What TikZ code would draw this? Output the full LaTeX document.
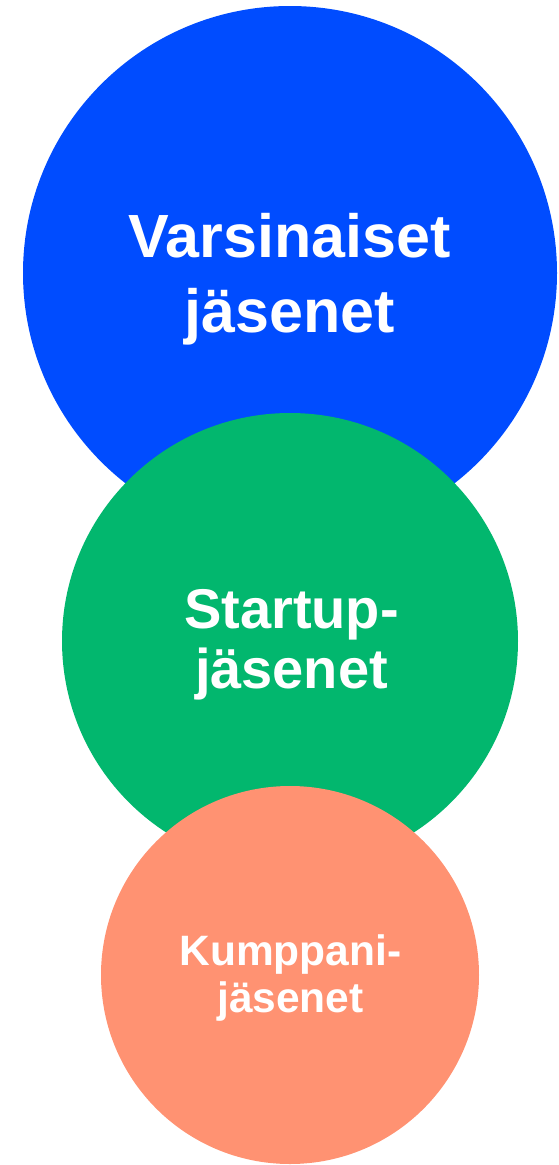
\documentclass[tikz,border=0pt]{standalone}
\usepackage{fontspec}
\setmainfont{Liberation Sans}
\definecolor{varsblue}{RGB}{0,76,255}
\definecolor{startgreen}{RGB}{2,183,110}
\definecolor{partnerorange}{RGB}{255,146,114}
\begin{document}
\begin{tikzpicture}
	[x=1pt,y=-1pt,
	ball/.style={circle,draw=none,inner sep=0pt,minimum size=#1},
	txt/.style={text=white,align=center,inner sep=0pt}]
	\useasboundingbox (0,0) rectangle (559,1165);
	\node[ball=534pt,fill=varsblue,name=varsinaiset] at (290,273) {};
	\node[ball=456pt,fill=startgreen,name=startup] at (290,641) {};
	\node[ball=378pt,fill=partnerorange,name=kumppani] at (290,975) {};
	\node[txt,font=\bfseries\fontsize{61}{75}\selectfont,name=varsinaisetlbl] at (289.5,279.5) {Varsinaiset\\jäsenet};
	\node[txt,font=\bfseries\fontsize{56}{60}\selectfont,name=startuplbl] at (291.5,645) {Startup-\\jäsenet};
	\node[txt,font=\bfseries\fontsize{42.5}{47}\selectfont,name=kumppanilbl] at (290.5,977.5) {Kumppani-\\jäsenet};
\end{tikzpicture}
\end{document}
